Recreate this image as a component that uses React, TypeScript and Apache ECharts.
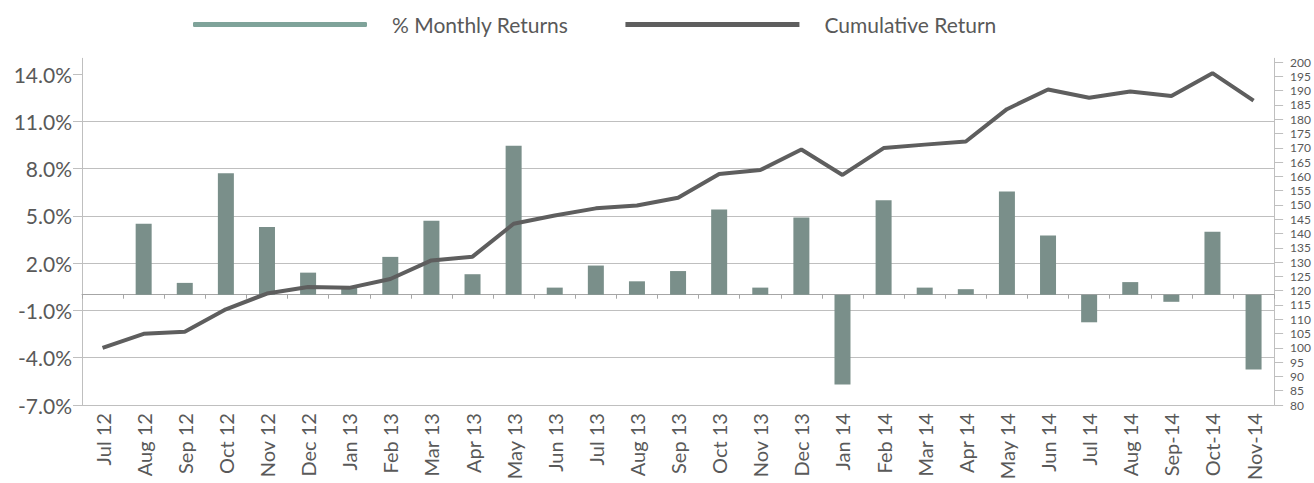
import React, { useEffect, useRef } from "react";
import * as echarts from "echarts";

const categories = [
  "Jul 12", "Aug 12", "Sep 12", "Oct 12", "Nov 12", "Dec 12", "Jan 13", "Feb 13",
  "Mar 13", "Apr 13", "May 13", "Jun 13", "Jul 13", "Aug 13", "Sep 13", "Oct 13",
  "Nov 13", "Dec 13", "Jan 14", "Feb 14", "Mar 14", "Apr 14", "May 14", "Jun 14",
  "Jul 14", "Aug 14", "Sep-14", "Oct-14", "Nov-14",
];

const monthlyReturns = [
  0, 4.5, 0.75, 7.7, 4.3, 1.4, 0.45, 2.4, 4.7, 1.3, 9.45, 0.45, 1.85, 0.85, 1.5,
  5.4, 0.45, 4.9, -5.7, 6.0, 0.45, 0.35, 6.55, 3.75, -1.75, 0.8, -0.45, 4.0, -4.75,
];

const cumulativeReturn = [
  100, 104.9, 105.6, 113.5, 119.0, 121.3, 121.0, 124.1, 130.6, 131.9, 143.4, 146.3,
  148.8, 149.8, 152.5, 160.8, 162.2, 169.4, 160.5, 169.9, 171.1, 172.2, 183.5, 190.4,
  187.5, 189.7, 188.1, 196.1, 186.5,
];

const leftTicks = [-7, -4, -1, 2, 5, 8, 11, 14];
const rightTicks = [
  80, 85, 90, 95, 100, 105, 110, 115, 120, 125, 130, 135, 140, 145, 150, 155, 160,
  165, 170, 175, 180, 185, 190, 195, 200,
];

const BAR_COLOR = "#7a8f8a";
const LINE_COLOR = "#5e5e5e";
const AXIS_COLOR = "#bfbfbf";
const TEXT_COLOR = "#595959";
const FONT = "Lato";

export default function App() {
  const ref = useRef<HTMLDivElement>(null);

  useEffect(() => {
    if (!ref.current) return;
    const chart = echarts.init(ref.current, undefined, { renderer: "svg" });
    chart.setOption({
      animation: false,
      backgroundColor: "#ffffff",
      textStyle: { fontFamily: FONT },
      legend: {
        left: 193,
        top: 14,
        padding: 0,
        itemWidth: 174,
        itemHeight: 5,
        itemGap: 57,
        textStyle: {
          fontSize: 21,
          color: TEXT_COLOR,
          fontFamily: FONT,
          padding: [0, 0, 0, 20],
        },
        data: [
          { name: "% Monthly Returns", icon: "roundRect", itemStyle: { color: "#7fa39a" } },
          { name: "Cumulative Return", icon: "rect", itemStyle: { color: LINE_COLOR } },
        ],
      },
      grid: { left: 82, right: 34, top: 58.3, bottom: 68, containLabel: false },
      xAxis: [
        {
          type: "category",
          data: categories,
          position: "bottom",
          axisLine: { show: false, onZero: false },
          axisTick: { show: false },
          axisLabel: {
            rotate: 90,
            interval: 0,
            margin: 8,
            fontSize: 20,
            color: TEXT_COLOR,
            fontFamily: FONT,
          },
          splitLine: { show: false },
        },
        {
          type: "category",
          data: categories,
          position: "bottom",
          axisLine: { show: true, onZero: true, onZeroAxisIndex: 0, lineStyle: { color: "#a6a6a6", width: 1 } },
          axisTick: { show: true, interval: 0, length: 4, lineStyle: { color: "#a6a6a6" } },
          axisLabel: { show: false },
          splitLine: { show: false },
        },
      ],
      yAxis: [
        {
          type: "value",
          position: "left",
          min: -7,
          max: 15,
          interval: 3,
          axisLine: { show: true, lineStyle: { color: AXIS_COLOR } },
          axisTick: { show: true, length: 9, lineStyle: { color: AXIS_COLOR }, customValues: leftTicks },
          axisLabel: {
            customValues: leftTicks,
            margin: 10,
            fontSize: 21,
            color: TEXT_COLOR,
            fontFamily: FONT,
            formatter: (v: number) => v.toFixed(1) + "%",
          },
          splitLine: { show: true, showMaxLine: false, lineStyle: { color: AXIS_COLOR, width: 1 } },
        },
        {
          type: "value",
          position: "right",
          min: 80,
          max: 201.3,
          axisLine: { show: true, lineStyle: { color: AXIS_COLOR } },
          axisTick: { show: true, length: 9, lineStyle: { color: AXIS_COLOR }, customValues: rightTicks },
          axisLabel: {
            customValues: rightTicks,
            margin: 16,
            fontSize: 12,
            color: TEXT_COLOR,
            fontFamily: FONT,
          },
          splitLine: { show: false },
        },
      ],
      series: [
        {
          name: "% Monthly Returns",
          type: "bar",
          xAxisIndex: 0,
          yAxisIndex: 0,
          data: monthlyReturns,
          barWidth: 16,
          itemStyle: { color: BAR_COLOR },
          z: 2,
        },
        {
          name: "Cumulative Return",
          type: "line",
          xAxisIndex: 0,
          yAxisIndex: 1,
          data: cumulativeReturn,
          symbol: "none",
          lineStyle: { color: LINE_COLOR, width: 4 },
          itemStyle: { color: LINE_COLOR },
          z: 3,
        },
      ],
    });
    return () => chart.dispose();
  }, []);

  return (
    <div
      ref={ref}
      style={{ position: "absolute", left: 0, top: 0, width: 1314, height: 483 }}
    />
  );
}
